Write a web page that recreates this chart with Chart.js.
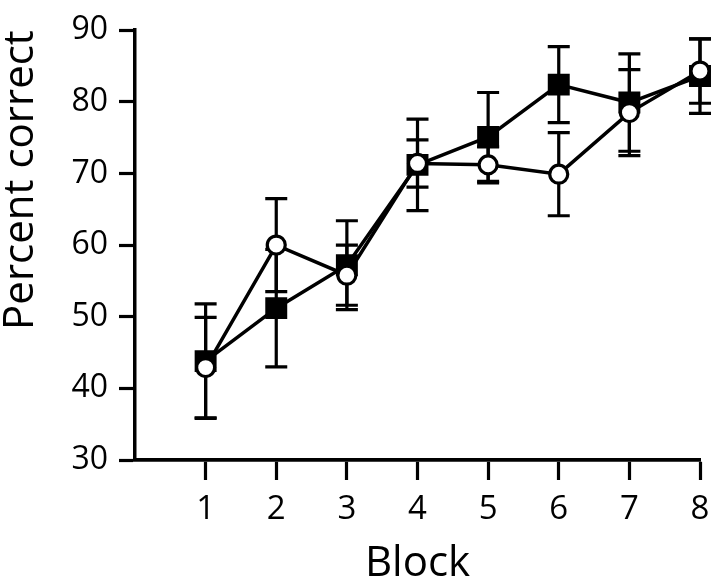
<!DOCTYPE html>
<html>
<head>
<meta charset="utf-8">
<script src="https://cdn.jsdelivr.net/npm/chart.js@4"></script>
<style>
  html, body { margin: 0; padding: 0; background: #fff; }
  #wrap { width: 720px; height: 588px; }
</style>
</head>
<body>
<div id="wrap"><canvas id="mychart" width="720" height="588"></canvas></div>
<script>
// blocks on the x axis
var blocks = [1, 2, 3, 4, 5, 6, 7, 8];
var yTicks = [30, 40, 50, 60, 70, 80, 90];

// filled squares
var squareMean = [43.8, 51.2, 57.2, 71.2, 75.1, 82.4, 79.9, 83.6];
var squareErr  = [8.0, 8.2, 6.2, 6.4, 6.2, 5.3, 6.8, 5.2];

// open circles
var circleMean = [42.9, 60.0, 55.8, 71.4, 71.2, 69.9, 78.5, 84.3];
var circleErr  = [7.0, 6.5, 4.2, 3.3, 2.5, 5.8, 6.0, 4.5];

var font = "'Open Sans', 'Noto Sans', sans-serif";

function points(mean) {
    return blocks.map(function(b, i) { return { x: b, y: mean[i] }; });
}

// error bars drawn behind the markers
var errorBars = {
    id: 'errorBars',
    beforeDatasetsDraw: function(chart) {
        var ctx = chart.ctx;
        var xs = chart.scales.x, ys = chart.scales.y;
        ctx.save();
        ctx.strokeStyle = '#000';
        ctx.lineWidth = 3.2;
        chart.data.datasets.forEach(function(ds) {
            ds.data.forEach(function(p, i) {
                var px = xs.getPixelForValue(p.x);
                var top = ys.getPixelForValue(p.y + ds.err[i]);
                var bot = ys.getPixelForValue(p.y - ds.err[i]);
                ctx.beginPath();
                ctx.moveTo(px, top); ctx.lineTo(px, bot);
                ctx.moveTo(px - 11, top); ctx.lineTo(px + 11, top);
                ctx.moveTo(px - 11, bot); ctx.lineTo(px + 11, bot);
                ctx.stroke();
            });
        });
        ctx.restore();
    }
};

var chart = new Chart(document.getElementById('mychart').getContext('2d'), {
    type: 'line',
    data: {
        datasets: [{
            label: 'open',
            data: points(circleMean),
            err: circleErr,
            borderColor: '#000',
            borderWidth: 3.5,
            backgroundColor: '#fff',
            pointStyle: 'circle',
            pointRadius: 9,
            pointBorderWidth: 3.2,
            pointBackgroundColor: '#fff',
            pointBorderColor: '#000',
            tension: 0,
            clip: false
        }, {
            label: 'filled',
            data: points(squareMean),
            err: squareErr,
            borderColor: '#000',
            borderWidth: 3.5,
            backgroundColor: '#000',
            pointStyle: 'rect',
            pointRadius: 13.4,
            pointBorderWidth: 3,
            pointBackgroundColor: '#000',
            pointBorderColor: '#000',
            tension: 0,
            clip: false
        }]
    },
    options: {
        responsive: false,
        animation: false,
        devicePixelRatio: 1,
        layout: { padding: { top: 25, right: 20, bottom: 0, left: 0 } },
        plugins: {
            legend: { display: false },
            tooltip: { enabled: false }
        },
        scales: {
            x: {
                type: 'linear',
                min: 0,
                max: 8,
                afterBuildTicks: function(scale) {
                    scale.ticks = blocks.map(function(b) { return { value: b }; });
                },
                afterFit: function(scale) { scale.height = 128; },
                grid: {
                    display: true,
                    drawOnChartArea: false,
                    drawTicks: true,
                    tickLength: 20,
                    tickWidth: 3.2,
                    tickColor: '#000'
                },
                border: { display: true, color: '#000', width: 3.8 },
                ticks: {
                    color: '#000',
                    padding: 10,
                    maxRotation: 0,
                    font: { family: font, size: 33 }
                },
                title: {
                    display: true,
                    text: 'Block',
                    color: '#000',
                    font: { family: font, size: 42, lineHeight: 1 },
                    padding: { top: 0, bottom: 3 }
                }
            },
            y: {
                min: 30,
                max: 90,
                afterBuildTicks: function(scale) {
                    scale.ticks = yTicks.map(function(v) { return { value: v }; });
                },
                afterFit: function(scale) { scale.width = 135; },
                grid: {
                    display: true,
                    drawOnChartArea: false,
                    drawTicks: true,
                    tickLength: 16,
                    tickWidth: 3.2,
                    tickColor: '#000'
                },
                border: { display: true, color: '#000', width: 3.5 },
                ticks: {
                    color: '#000',
                    padding: 11,
                    font: { family: font, size: 32 }
                },
                title: {
                    display: true,
                    text: 'Percent correct',
                    align: 'end',
                    color: '#000',
                    font: { family: font, size: 42, lineHeight: 1 },
                    padding: { top: 0, bottom: 0 }
                }
            }
        }
    },
    plugins: [errorBars]
});
</script>
</body>
</html>
